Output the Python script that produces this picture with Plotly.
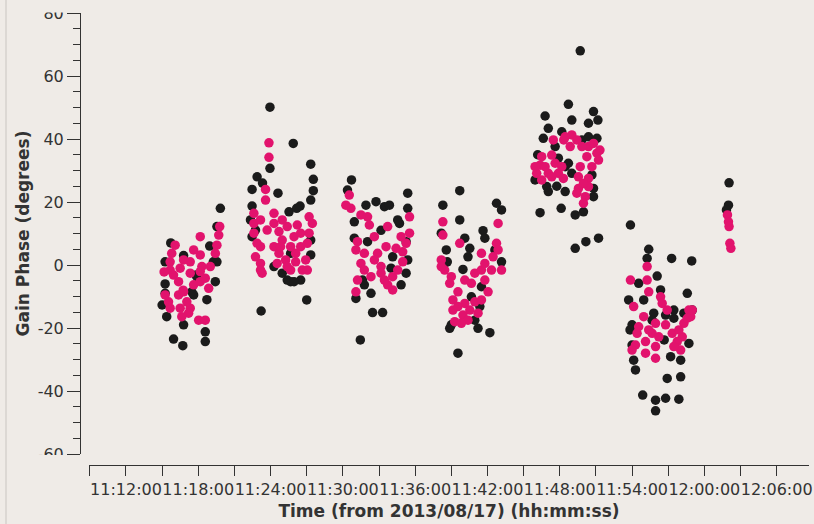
import plotly.graph_objects as go

DATE = "2013-08-17"

# Correlation 1 (black): solution time stamps and gain phase (deg), scan by scan
black_time = [
    "11:19:50", "11:15:43", "11:16:47", "11:18:57", "11:15:15", "11:15:15", "11:17:28", "11:17:37",
    "11:19:25", "11:18:43", "11:15:23", "11:16:47", "11:15:57", "11:16:43", "11:18:35", "11:18:35",
    "11:19:33", "11:17:50", "11:15:00", "11:19:15", "11:15:15", "11:17:53", "11:19:33",
    "11:23:57", "11:25:53", "11:23:57", "11:27:20", "11:27:33", "11:27:33", "11:27:20", "11:22:53",
    "11:22:28", "11:24:37", "11:22:28", "11:26:27", "11:25:32", "11:22:45", "11:22:28", "11:25:40",
    "11:24:17", "11:24:58", "11:25:40", "11:26:30", "11:27:20", "11:27:00", "11:23:13", "11:23:20",
    "11:26:10", "11:25:23", "11:25:57", "11:27:20", "11:22:20",
    "11:30:43", "11:30:23", "11:35:23", "11:31:55", "11:32:45", "11:33:27", "11:33:52", "11:35:23",
    "11:30:57", "11:34:42", "11:30:57", "11:32:03", "11:34:08", "11:35:15", "11:34:00", "11:35:15",
    "11:31:47", "11:34:50", "11:31:05", "11:32:20", "11:32:28", "11:33:18", "11:31:27", "11:33:10",
    "11:34:33", "11:35:23", "11:31:38",
    "11:39:42", "11:38:18", "11:42:45", "11:43:10", "11:39:42", "11:41:38", "11:41:47", "11:38:10",
    "11:40:07", "11:40:32", "11:38:35", "11:40:23", "11:42:37", "11:39:58", "11:41:30", "11:40:40",
    "11:41:22", "11:38:52", "11:41:13", "11:42:12", "11:39:33", "11:43:10", "11:38:40", "11:39:00",
    "11:40:57", "11:38:27",
    "11:49:42", "11:48:43", "11:46:47", "11:50:48", "11:51:10", "11:49:00", "11:47:03", "11:50:23",
    "11:46:38", "11:48:10", "11:51:05", "11:45:57", "11:47:03", "11:48:27", "11:50:48", "11:50:48",
    "11:49:00", "11:46:22", "11:48:07", "11:49:17", "11:49:58", "11:51:13", "11:50:10", "11:49:17",
    "11:47:53", "11:48:27", "11:49:50", "11:46:10", "11:50:40", "11:47:45", "11:47:37", "11:50:23",
    "11:48:43", "11:46:55",
    "11:53:52", "11:55:23", "11:55:15", "11:57:17", "11:58:57", "11:56:05", "11:54:33", "11:56:22",
    "11:58:35", "11:53:43", "11:54:58", "11:55:48", "11:57:28", "11:56:47", "11:54:00", "11:58:43",
    "11:57:12", "11:58:02", "11:54:08", "11:54:17", "11:56:55", "11:58:02", "11:54:53", "11:55:57",
    "11:56:47", "11:57:53", "11:55:57", "11:53:50", "11:54:00", "11:59:00", "11:56:40", "11:57:28",
    "11:58:18", "11:55:40",
    "12:02:03", "12:02:00", "12:01:50",
]
black_phase = [
    18, 7, 3, 6, -6, -9, -8.5, -9.5,
    -5.3, -11, -16.4, -19, -23.5, -25.6, -21.2, -24.3,
    12.2, -3.2, -12.7, 1, 1, -3.7, 1,
    50.1, 38.6, 30.7, 32, 27.2, 23.6, 20.6, 28,
    24, 22.8, 18.7, 18.7, 16.9, 11.1, 9, 3.7,
    -0.5, -2.6, -5.3, -4.8, 3.2, -11.1, -14.6, 26,
    18, -4.8, -5.3, 7.9, 14.3,
    27, 23.8, 22.8, 19, 20.1, 18.5, 19, 18,
    13.7, 13.2, 8.5, 7.4, 2.6, 7.4, -1, -2.6,
    -6.3, -6.3, -10.6, -9, -15.1, -15.1, -23.8, 11,
    14.3, 1.6, -4.8,
    23.6, 19, 19.6, 17.5, 14.3, 10.9, 8.5, 10.1,
    8.5, 5.3, 4.8, 2.6, 4.8, -1.4, -6.9, -10.1,
    -13.2, -20.1, -20.1, -21.5, -28, 1, 1, -19,
    -17.5, 0.5,
    68, 51, 47.3, 48.7, 46, 46, 43.4, 45,
    40.2, 42.3, 40.2, 27, 23.3, 23.3, 24.3, 21.7,
    29.1, 16.6, 18, 15.9, 16.9, 8.5, 7.4, 5.3,
    33.9, 31.2, 39.7, 35, 28.6, 25, 37.6, 40.7,
    32.3, 24.9,
    12.7, 5, 2.1, 2.1, 1.3, -3.5, -5.8, -7.9,
    -9, -11.1, -11.1, -15.3, -14.3, -15.9, -19, -24.9,
    -29.1, -30.2, -30.2, -33.3, -36, -35.5, -41.3, -42.9,
    -42.3, -42.6, -46.3, -20.6, -25.4, -14.3, -23.8, -16.9,
    -15.3, -17.5,
    26.1, 19, 17.5,
]

# Correlation 2 (magenta)
magenta_time = [
    "11:19:47", "11:19:42", "11:19:33", "11:19:25", "11:18:10", "11:15:48", "11:15:40", "11:15:40",
    "11:16:30", "11:17:20", "11:18:10", "11:18:18", "11:19:00", "11:17:20", "11:16:22", "11:15:32",
    "11:15:15", "11:16:22", "11:16:30", "11:17:20", "11:18:02", "11:18:35", "11:18:10", "11:18:52",
    "11:15:57", "11:17:03", "11:15:10", "11:16:45", "11:16:05", "11:16:47", "11:17:37", "11:18:35",
    "11:17:37", "11:16:47", "11:15:40", "11:17:12", "11:16:38", "11:18:10",
    "11:23:52", "11:23:52", "11:23:35", "11:23:35", "11:22:37", "11:22:37", "11:23:10", "11:24:17",
    "11:24:17", "11:25:23", "11:26:13", "11:27:12", "11:27:28", "11:27:12", "11:24:58", "11:25:57",
    "11:24:17", "11:23:10", "11:22:45", "11:23:10", "11:23:18", "11:24:42", "11:25:15", "11:26:05",
    "11:26:55", "11:25:40", "11:26:38", "11:24:50", "11:26:30", "11:27:03", "11:22:37", "11:22:53",
    "11:23:43", "11:24:42", "11:25:40", "11:25:23", "11:26:05", "11:27:03", "11:23:10", "11:24:33",
    "11:24:58", "11:26:30",
    "11:30:32", "11:30:40", "11:32:03", "11:32:12", "11:33:43", "11:35:32", "11:35:32", "11:34:50",
    "11:32:37", "11:31:05", "11:31:47", "11:32:53", "11:34:58", "11:34:58", "11:31:30", "11:33:10",
    "11:33:10", "11:31:13", "11:34:08", "11:31:05", "11:34:08", "11:33:43", "11:32:20", "11:34:25",
    "11:30:15", "11:31:13", "11:32:37", "11:33:35", "11:33:27", "11:31:47", "11:35:15", "11:34:33",
    "11:31:30",
    "11:38:18", "11:38:18", "11:39:42", "11:42:53", "11:42:45", "11:41:30", "11:38:10", "11:38:27",
    "11:42:28", "11:43:10", "11:42:20", "11:40:57", "11:38:52", "11:40:07", "11:41:47", "11:39:33",
    "11:42:03", "11:39:08", "11:40:07", "11:40:57", "11:39:08", "11:39:58", "11:41:13", "11:39:17",
    "11:40:23", "11:38:10", "11:39:00", "11:40:40", "11:41:30", "11:42:53", "11:39:33", "11:40:32",
    "11:41:30", "11:39:50", "11:41:47",
    "11:47:28", "11:49:00", "11:49:25", "11:48:52", "11:50:23", "11:51:05", "11:50:15", "11:46:30",
    "11:47:20", "11:46:22", "11:46:05", "11:47:37", "11:47:03", "11:47:53", "11:46:30", "11:48:18",
    "11:49:42", "11:50:40", "11:49:33", "11:50:23", "11:49:33", "11:50:07", "11:49:58", "11:49:25",
    "11:51:20", "11:48:20", "11:46:47", "11:47:20", "11:48:27", "11:49:50", "11:50:48", "11:51:13",
    "11:45:57", "11:48:10", "11:50:23", "11:49:58",
    "11:55:15", "11:53:52", "11:55:15", "11:55:23", "11:56:22", "11:56:30", "11:54:08", "11:58:43",
    "11:58:52", "11:54:58", "11:55:57", "11:56:47", "11:58:18", "11:54:25", "11:55:40", "11:57:20",
    "11:58:10", "11:54:17", "11:55:07", "11:57:45", "11:58:02", "11:55:57", "11:56:55", "11:54:33",
    "11:55:23", "11:56:13", "11:57:53", "11:58:35", "11:59:00", "11:55:07", "11:57:28", "11:54:00",
    "11:55:57",
    "12:01:55", "12:02:00", "12:02:03", "12:02:07", "12:02:12",
]
magenta_phase = [
    12.2, 9.5, 6.3, 3.7, 9, 3.7, 1, -1.6,
    -1, 1, 3.2, -0.5, -0.5, -2.6, -5.3, -11.7,
    -9.5, -9.5, -13.7, -13.7, -17.5, -17.5, -5.3, -7.4,
    -3.2, -11.7, -2.2, -8, 6.3, 1.6, 4.8, -4.2,
    -6.3, -8.5, -13.7, -15.3, -16.4, -2.1,
    38.8, 34.2, 24, 20.6, 16.4, 13.2, 14.3, 16.4,
    13.2, 12.2, 12.7, 15.3, 13.2, 10.1, 7.9, 9,
    5.8, 5.8, 2.6, 0.5, -2.6, 3.7, 1.6, 1,
    1.6, -1.6, -1.6, 5.8, 5.8, 6.9, 10.1, 6.9,
    11.1, 10.6, 5.8, -0.5, 3.7, -1.6, -1.6, 0.5,
    14.3, 10.1,
    22.2, 18, 15.3, 12.7, 12.2, 15.3, 10.1, 9,
    9, 4.8, 3.7, 3.7, 4.2, 1, 0.5, -0.5,
    -2.6, -4.8, -3.7, -8.5, -7.9, -6.3, -3.7, 5.3,
    19, 7.4, 1.6, 5.8, -4.8, -1.6, 6.9, -1.6,
    15.9,
    13.7, 9.5, 6.9, 13.2, 6.9, 3.7, 1.6, -1.6,
    2.6, -1.6, -1.6, -2.6, -5.8, -4.8, -4.8, -8.5,
    -8.5, -11.1, -12.2, -11.7, -14.3, -15.9, -15.3, -18,
    -17.5, -0.5, -3.7, -5.8, -1.6, 4.8, -13.2, -14.3,
    -11.1, -18.5, 0.5,
    39.7, 41.3, 39.7, 37.6, 37.6, 35.5, 34.4, 34.4,
    34.9, 31.7, 29.1, 32.3, 29.1, 29.1, 27, 27.5,
    31.2, 31.2, 28, 27.5, 24.3, 21.7, 19.6, 22.8,
    36.5, 39.7, 31.2, 28, 40.7, 37.6, 38.6, 33.3,
    31.2, 31.2, 24.9, 25.9,
    -0.5, -4.8, -4.8, -8.5, -10.1, -12.2, -13.2, -14.3,
    -16.4, -16.4, -18.5, -19, -18.5, -21.7, -21.7, -21.7,
    -22.8, -25.4, -24.3, -24.3, -27, -29.6, -14.3, -19.6,
    -20.6, -22.8, -20.6, -16.9, -14.3, -28, -25.9, -27,
    -25.9,
    15.9, 13.7, 12.2, 6.9, 5.3,
]

# Axis extents and labelled ticks
y_range = [-60, 80]
y_ticks = [-60, -40, -20, 0, 20, 40, 60, 80]
x_start = DATE + " 11:08:56"
x_end = DATE + " 12:08:41"
x_tick0 = DATE + " 11:12:00"
x_minor0 = DATE + " 11:09:00"

BG = "#efebe7"
INK = "#333333"
FONT = "DejaVu Sans"
W, H = 814, 524

fig = go.Figure()
fig.add_trace(go.Scatter(
    x=[DATE + " " + t for t in black_time], y=black_phase,
    mode="markers", marker=dict(size=9.5, color="#1b1b1b", line=dict(width=0)),
    name="corr 1",
))
fig.add_trace(go.Scatter(
    x=[DATE + " " + t for t in magenta_time], y=magenta_phase,
    mode="markers", marker=dict(size=9.5, color="#e2136d", line=dict(width=0)),
    name="corr 2",
))

# Pixel geometry of the frame, converted to paper fractions
px = lambda v: v / W
py = lambda v: 1 - v / H

fig.update_layout(
    width=W, height=H,
    margin=dict(l=0, r=0, t=0, b=0, autoexpand=False),
    paper_bgcolor=BG, plot_bgcolor=BG,
    showlegend=False,
    font=dict(family=FONT, size=16, color=INK),
    xaxis=dict(
        type="date",
        domain=[px(89), px(809)],
        anchor="free", position=py(465),
        range=[x_start, x_end],
        tick0=x_tick0, dtick=6 * 60 * 1000,
        tickformat="%H:%M:%S", tickangle=0,
        ticks="outside", ticklen=10, tickwidth=1, tickcolor=INK,
        minor=dict(tick0=x_minor0, dtick=3 * 60 * 1000, ticks="outside",
                   ticklen=10, tickwidth=1, tickcolor=INK),
        showline=True, linecolor=INK, linewidth=1,
        showgrid=False, zeroline=False, automargin=False,
        tickfont=dict(family=FONT, size=16, color=INK),
        title=dict(text="<b>Time (from 2013/08/17) (hh:mm:ss)</b>",
                   font=dict(family=FONT, size=17, color=INK), standoff=6),
    ),
    yaxis=dict(
        domain=[py(454), py(13)],
        anchor="free", position=px(80),
        range=y_range,
        tickmode="array", tickvals=y_ticks, ticktext=[str(v) for v in y_ticks],
        ticks="outside", ticklen=13, tickwidth=1, tickcolor=INK,
        minor=dict(tick0=0, dtick=5, ticks="outside", ticklen=7, tickwidth=1, tickcolor=INK),
        showline=True, linecolor=INK, linewidth=1,
        showgrid=False, zeroline=False, automargin=False,
        tickfont=dict(family=FONT, size=16, color=INK),
        title=dict(text="<b>Gain Phase (degrees)</b>",
                   font=dict(family=FONT, size=17, color=INK), standoff=2),
    ),
    shapes=[
        # tick labels at the ends of the phase axis are cut off at the axis extent
        dict(type="rect", xref="paper", yref="paper", layer="above",
             x0=px(20), x1=px(66), y0=py(12.5), y1=1.0,
             fillcolor=BG, line=dict(width=0)),
        dict(type="rect", xref="paper", yref="paper", layer="above",
             x0=px(20), x1=px(66), y0=py(463), y1=py(455),
             fillcolor=BG, line=dict(width=0)),
        # window frame edge on the left
        dict(type="line", xref="paper", yref="paper", layer="above",
             x0=px(6), x1=px(6), y0=0, y1=1,
             line=dict(color="#c9c5c1", width=1)),
    ],
)

fig.write_html("out.html")
